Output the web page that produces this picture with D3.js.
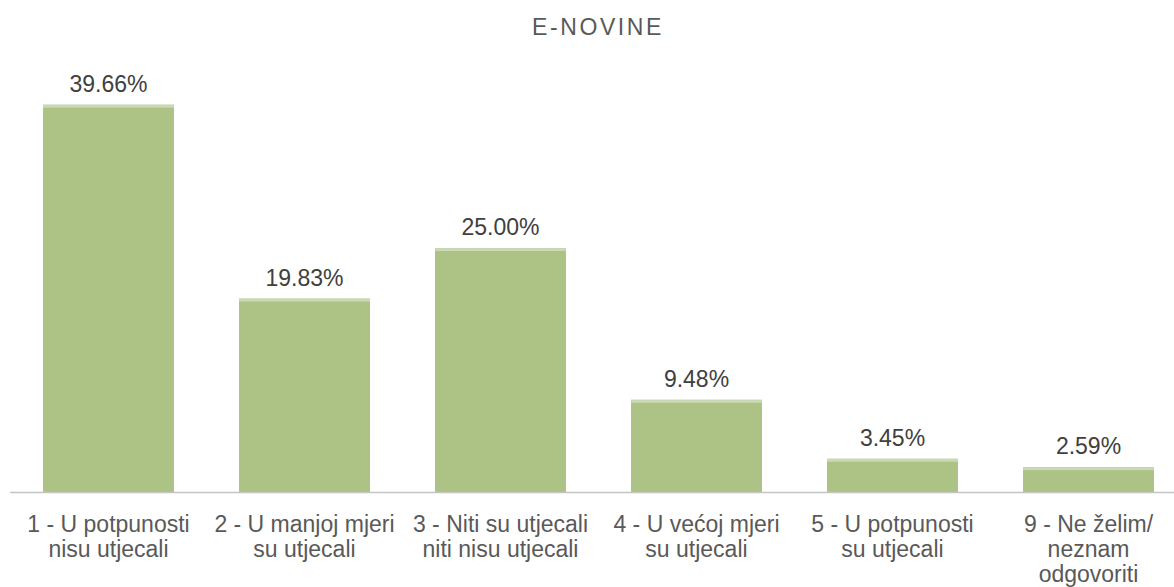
<!DOCTYPE html>
<html>
<head>
<meta charset="utf-8">
<script src="https://cdn.jsdelivr.net/npm/d3@7"></script>
<style>
  html, body { margin: 0; padding: 0; background: #ffffff; }
  svg { display: block; font-family: "Liberation Sans", Arial, sans-serif; }
</style>
</head>
<body>
<svg id="chart" width="1174" height="587"></svg>
<script>
// Survey answers: share of respondents per answer (%)
const categories = [
  ["1 - U potpunosti", "nisu utjecali"],
  ["2 - U manjoj mjeri", "su utjecali"],
  ["3 - Niti su utjecali", "niti nisu utjecali"],
  ["4 - U većoj mjeri", "su utjecali"],
  ["5 - U potpunosti", "su utjecali"],
  ["9 - Ne želim/", "neznam", "odgovoriti"]
];
const values = [39.66, 19.83, 25.00, 9.48, 3.45, 2.59];
const valueLabels = ["39.66%", "19.83%", "25.00%", "9.48%", "3.45%", "2.59%"];
const title = "E-NOVINE";

const width = 1174, height = 587;
const baseY = 492.5;
const svg = d3.select("#chart");

const keys = categories.map((c, i) => i);
const x = d3.scaleBand()
  .domain(keys)
  .range([10.5, 1186.5])
  .paddingInner(0.332)
  .paddingOuter(0.166);

const y = d3.scaleLinear()
  .domain([0, 45])
  .range([baseY, 52.5]);

// Title
svg.append("text")
  .attr("x", 598)
  .attr("y", 35)
  .attr("text-anchor", "middle")
  .attr("font-size", 23)
  .attr("letter-spacing", 2.6)
  .attr("fill", "#595959")
  .text(title);

// Bars
const bars = svg.append("g");
bars.selectAll("rect.bar")
  .data(values)
  .join("rect")
  .attr("class", "bar")
  .attr("x", (d, i) => x(i))
  .attr("y", d => y(d))
  .attr("width", x.bandwidth())
  .attr("height", d => baseY - y(d))
  .attr("fill", "#adc285");

// Light highlight along the top edge of each bar
bars.selectAll("rect.cap")
  .data(values)
  .join("rect")
  .attr("class", "cap")
  .attr("x", (d, i) => x(i))
  .attr("y", d => y(d))
  .attr("width", x.bandwidth())
  .attr("height", 3)
  .attr("fill", "#cad9b4");

// Value labels above bars
svg.append("g").selectAll("text")
  .data(values)
  .join("text")
  .attr("x", (d, i) => x(i) + x.bandwidth() / 2)
  .attr("y", d => y(d) - 13)
  .attr("text-anchor", "middle")
  .attr("font-size", 23)
  .attr("fill", "#404040")
  .text((d, i) => valueLabels[i]);

// Category axis
const axis = d3.axisBottom(x).tickSize(0).tickFormat(() => "");
const axisG = svg.append("g")
  .attr("transform", `translate(0,${baseY})`)
  .call(axis);
axisG.select(".domain")
  .attr("d", "M10,0H1174")
  .attr("stroke", "#c4c4c4")
  .attr("stroke-width", 1.5);

axisG.selectAll(".tick").each(function(i) {
  const t = d3.select(this).select("text")
    .attr("y", 0)
    .attr("dy", null)
    .attr("font-size", 23)
    .attr("font-family", "Liberation Sans, Arial, sans-serif")
    .attr("fill", "#595959")
    .attr("text-anchor", "middle");
  categories[i].forEach((line, k) => {
    t.append("tspan")
      .attr("x", 0)
      .attr("y", 39 + k * 25)
      .text(line);
  });
});
</script>
</body>
</html>
